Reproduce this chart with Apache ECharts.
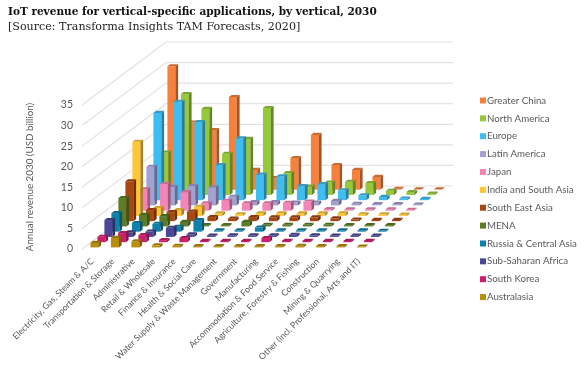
<!DOCTYPE html>
<html><head><meta charset="utf-8">
<style>html,body{margin:0;padding:0;background:#fff}#c{width:588px;height:371px}</style>
<script src="https://cdn.jsdelivr.net/npm/echarts@6/dist/echarts.min.js"></script>
</head><body><div id="c"></div>
<script>
const categories = ["Electricity, Gas, Steam & A/C","Transportation & Storage","Administrative","Retail & Wholesale","Finance & Insurance","Health & Social Care","Water Supply & Waste Management","Government","Manufacturing","Accommodation & Food Service","Agriculture, Forestry & Fishing","Construction","Mining & Quarrying","Other (incl. Professional, Arts and IT)"];
const yTicks = [0,5,10,15,20,25,30,35];
const greaterChina = [30,16.3,14.5,22.5,4.8,2.8,7.7,13.3,6,4.8,3.1,0.2,0.1,0.1];
const northAmerica = [10.3,24.5,20.9,10,13.6,21.1,5.3,2,3,3.2,2.9,1,0.7,0.3];
const europe = [21.2,23.9,19,8.5,15,6.2,5.8,3.4,3.9,2.4,1.2,0.8,0.4,0.3];
const latinAmerica = [9.4,4.5,4.7,4.4,2.1,0.8,0.8,0.7,0.7,1.1,0.4,0.3,0.3,0.2];
const japan = [5.2,6.5,4.5,1.8,2.4,1.8,1.8,1.9,2.2,0.4,0.3,0.3,0.3,0.2];
const indiaSouthAsia = [18,1.9,1.4,2.2,0.6,0.4,0.6,0.6,0.6,0.6,0.6,0.4,0.4,0.3];
const southEastAsia = [9.7,2.7,2.2,2.3,1,0.6,1,0.9,0.9,0.9,0.7,0.4,0.3,0.3];
const mena = [6.9,2.8,2.5,1.1,0.3,0.3,1.1,0.4,0.4,0.4,0.4,0.3,0.3,0.3];
const russiaCentralAsia = [4.5,2.1,1.9,1.2,2.8,0.3,0.3,1,0.3,0.3,0.3,0.3,0.3,0.2];
const subSaharanAfrica = [4.1,1.1,1.3,2.2,0.6,0.3,0.4,0.4,0.4,0.5,0.4,0.3,0.3,0.3];
const southKorea = [1.3,2.2,1.7,0.5,1,0.3,0.3,0.3,1,0.3,0.3,0.3,0.3,0.3];
const australasia = [1.1,2.3,1.5,0.5,0.4,0.3,0.3,0.3,0.3,0.3,0.4,0.3,0.3,0.2];
const regions = [
 ["Greater China",greaterChina,"#F5813C"],
 ["North America",northAmerica,"#96C83C"],
 ["Europe",europe,"#3EBEF0"],
 ["Latin America",latinAmerica,"#A3A0D2"],
 ["Japan",japan,"#F485B8"],
 ["India and South Asia",indiaSouthAsia,"#FFC735"],
 ["South East Asia",southEastAsia,"#A8470F"],
 ["MENA",mena,"#5C7D25"],
 ["Russia & Central Asia",russiaCentralAsia,"#0F82AC"],
 ["Sub-Saharan Africa",subSaharanAfrica,"#4B4796"],
 ["South Korea",southKorea,"#CB1E6E"],
 ["Australasia",australasia,"#B98E0A"]
];
const DX = 7, DY = 5.25, BAR = 0.39, BX = 2.7, BY = 2.1;
const TXT = "#595959";
function shade(hex,f){const n=parseInt(hex.slice(1),16);return "rgb("+[(n>>16)&255,(n>>8)&255,n&255].map(v=>Math.round(v*f)).join(",")+")";}
function wallItem(params,api){
  const v=api.value(1), band=api.size([1,0])[0];
  const a=api.coord([0,v]), b=api.coord([categories.length-1,v]);
  const x0=a[0]-band/2, x1=b[0]+band/2, y=a[1], n=regions.length;
  return {type:"polyline",silent:true,shape:{points:[[x0,y],[x0+n*DX,y-n*DY],[x1+n*DX,y-n*DY]]},style:{stroke:"#e2e2e2",lineWidth:1.2,fill:null}};
}
function barItem(k,color){
  return function(params,api){
    const c=api.value(0), v=api.value(1);
    const top=api.coord([c,v]), bot=api.coord([c,0]), band=api.size([1,0])[0];
    const w=band*BAR;
    const ox=(k+0.5)*DX-BX/2, oy=-(k+0.5)*DY+BY/2;
    const l=top[0]+ox-w/2, r=l+w, t=top[1]+oy, b=bot[1]+oy;
    return {type:"group",silent:true,children:[
      {type:"polygon",shape:{points:[[l,b],[r,b],[r,t],[l,t]]},style:{fill:color}},
      {type:"polygon",shape:{points:[[r,b],[r+BX,b-BY],[r+BX,t-BY],[r,t]]},style:{fill:shade(color,0.66)}},
      {type:"polygon",shape:{points:[[l,t],[r,t],[r+BX,t-BY],[l+BX,t-BY]]},style:{fill:shade(color,0.82)}}
    ]};
  };
}
const series=[{type:"custom",name:"walls",silent:true,clip:false,animation:false,renderItem:wallItem,encode:{x:0,y:1},data:yTicks.map(v=>[0,v])}];
regions.forEach((r,i)=>{
  const k=regions.length-1-i;
  series.push({type:"custom",name:r[0],silent:true,clip:false,animation:false,itemStyle:{color:r[2]},
    renderItem:barItem(k,r[2]),encode:{x:0,y:1},data:r[1].map((v,c)=>[c,v])});
});
const chart=echarts.init(document.getElementById("c"),null,{renderer:"canvas"});
chart.setOption({
  animation:false,backgroundColor:"#fff",
  title:{left:8,top:7,padding:0,itemGap:4,text:"IoT revenue for vertical-specific applications, by vertical, 2030",
    textStyle:{fontFamily:"DejaVu Serif",fontWeight:"bold",fontSize:10.5,color:"#111"},
    subtext:"[Source: Transforma Insights TAM Forecasts, 2020]",
    subtextStyle:{fontFamily:"DejaVu Serif",fontSize:11.1,color:"#222"}},
  legend:{orient:"vertical",left:480,top:95.5,padding:0,itemWidth:6,itemHeight:6,itemGap:7.87,icon:"rect",
    data:regions.map(r=>r[0]),selectedMode:false,textStyle:{fontFamily:"Lato",fontSize:9.7,color:TXT,padding:[0,0,0,-4]}},
  grid:{left:82,top:105,width:287,height:144,outerBoundsMode:"none"},
  xAxis:{type:"category",data:categories,axisLine:{show:false},axisTick:{show:false},
    axisLabel:{interval:0,rotate:45,margin:11,fontFamily:"Lato",fontSize:8.7,color:TXT,hideOverlap:false}},
  yAxis:{type:"value",min:0,max:35,interval:5,name:"Annual revenue 2030 (USD billion)",nameLocation:"middle",nameGap:47,nameRotate:90,
    nameTextStyle:{fontFamily:"Lato",fontSize:9.8,color:TXT},
    axisLine:{show:false},axisTick:{show:false},splitLine:{show:false},
    axisLabel:{margin:9,padding:[4,0,0,0],fontFamily:"Lato",fontSize:10.5,color:TXT}},
  series
});
</script></body></html>
